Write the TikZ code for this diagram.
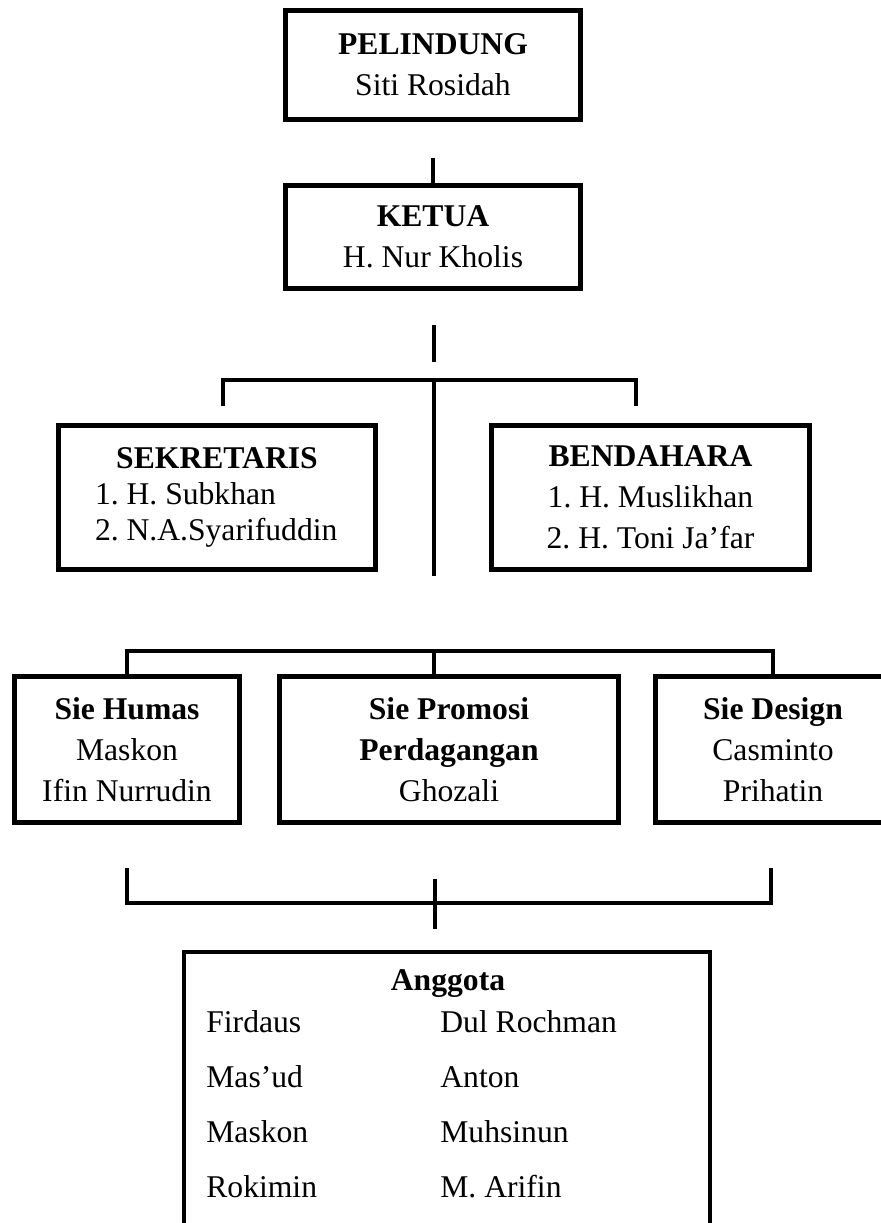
\documentclass[tikz,border=0pt]{standalone}
\usepackage{fontspec}
\setmainfont{Liberation Serif}
\usepackage{tikz}
\frenchspacing

\begin{document}
\begin{tikzpicture}[
    kotak/.style={draw, line width=2.8pt, align=center, inner sep=0pt,
      font=\fontsize{18}{23.3}\selectfont},
    garis/.style={line width=2pt},
    nama/.style={anchor=base west, inner sep=0pt, font=\fontsize{18}{23.3}\selectfont}
  ]
    \useasboundingbox (0,0) rectangle (17.62,-24.46);

    % pengurus inti
    \node[kotak, minimum width=5.9cm, minimum height=2.18cm] (pelindung) at (8.66,-1.30)
      {\textbf{PELINDUNG}\\ Siti Rosidah};
    \node[kotak, minimum width=5.9cm, minimum height=2.06cm] (ketua) at (8.66,-4.74)
      {\textbf{KETUA}\\ H. Nur Kholis};
    \node[kotak, minimum width=6.34cm, minimum height=2.88cm] (sekretaris) at (4.34,-9.95)
      {\textbf{SEKRETARIS}\\[-3pt] \makebox[4.88cm][l]{1. H. Subkhan}\\[-3pt]
       \makebox[4.88cm][l]{2. N.A.Syarifuddin}};
    \node[kotak, minimum width=6.36cm, minimum height=2.88cm] (bendahara) at (13.01,-9.95)
      {\textbf{BENDAHARA}\\ 1. H. Muslikhan\\ 2. H. Toni Ja'far};

    % seksi
    \node[kotak, minimum width=4.5cm, minimum height=2.92cm] (humas) at (2.54,-14.99)
      {\textbf{Sie Humas}\\ Maskon\\ Ifin Nurrudin};
    \node[kotak, minimum width=6.78cm, minimum height=2.92cm] (promosi) at (8.98,-14.99)
      {\textbf{Sie Promosi}\\ \textbf{Perdagangan}\\ Ghozali};
    \node[kotak, minimum width=4.7cm, minimum height=2.92cm] (design) at (15.46,-14.99)
      {\textbf{Sie Design}\\ Casminto\\ Prihatin};

    % anggota
    \node[kotak, minimum width=10.52cm, minimum height=6cm, anchor=north] (anggota) at (8.94,-18.99) {};
    \node[anchor=base, inner sep=0pt, font=\fontsize{18}{23.3}\selectfont\bfseries] (judul) at (8.96,-19.80) {Anggota};
    \node[nama] (firdaus) at (4.12,-20.64) {Firdaus};
    \node[nama] (masud) at (4.12,-21.74) {Mas'ud};
    \node[nama] (maskon) at (4.12,-22.84) {Maskon};
    \node[nama] (rokimin) at (4.12,-23.94) {Rokimin};
    \node[nama] (dul) at (8.80,-20.64) {Dul Rochman};
    \node[nama] (anton) at (8.80,-21.74) {Anton};
    \node[nama] (muhsinun) at (8.80,-22.84) {Muhsinun};
    \node[nama] (arifin) at (8.80,-23.94) {M. Arifin};

    % titik bantu garis
    \coordinate (a0) at (8.66,-3.16);
    \coordinate (a1) at (8.68,-6.50);
    \coordinate (a2) at (8.68,-7.24);
    \coordinate (b1) at (8.68,-7.60);
    \coordinate (s1) at (4.46,-8.12);
    \coordinate (t1) at (12.72,-8.12);
    \coordinate (c1) at (8.68,-11.52);
    \coordinate (b2) at (8.68,-13.02);
    \coordinate (d1) at (2.54,-17.36);
    \coordinate (d2) at (15.42,-17.36);
    \coordinate (b3) at (8.70,-18.06);
    \coordinate (e1) at (8.70,-17.58);
    \coordinate (e2) at (8.70,-18.58);

    \draw[garis] (a0) -- (ketua.north);
    \draw[garis] (a1) -- (a2);
    \draw[garis] (s1) |- (b1) -| (t1);
    \draw[garis] (b1) -- (c1);
    \draw[garis] (humas.north) |- (b2) -| (design.north);
    \draw[garis] (b2) -- (b2 |- promosi.north);
    \draw[garis] (d1) |- (b3) -| (d2);
    \draw[garis] (e1) -- (e2);
\end{tikzpicture}
\end{document}
